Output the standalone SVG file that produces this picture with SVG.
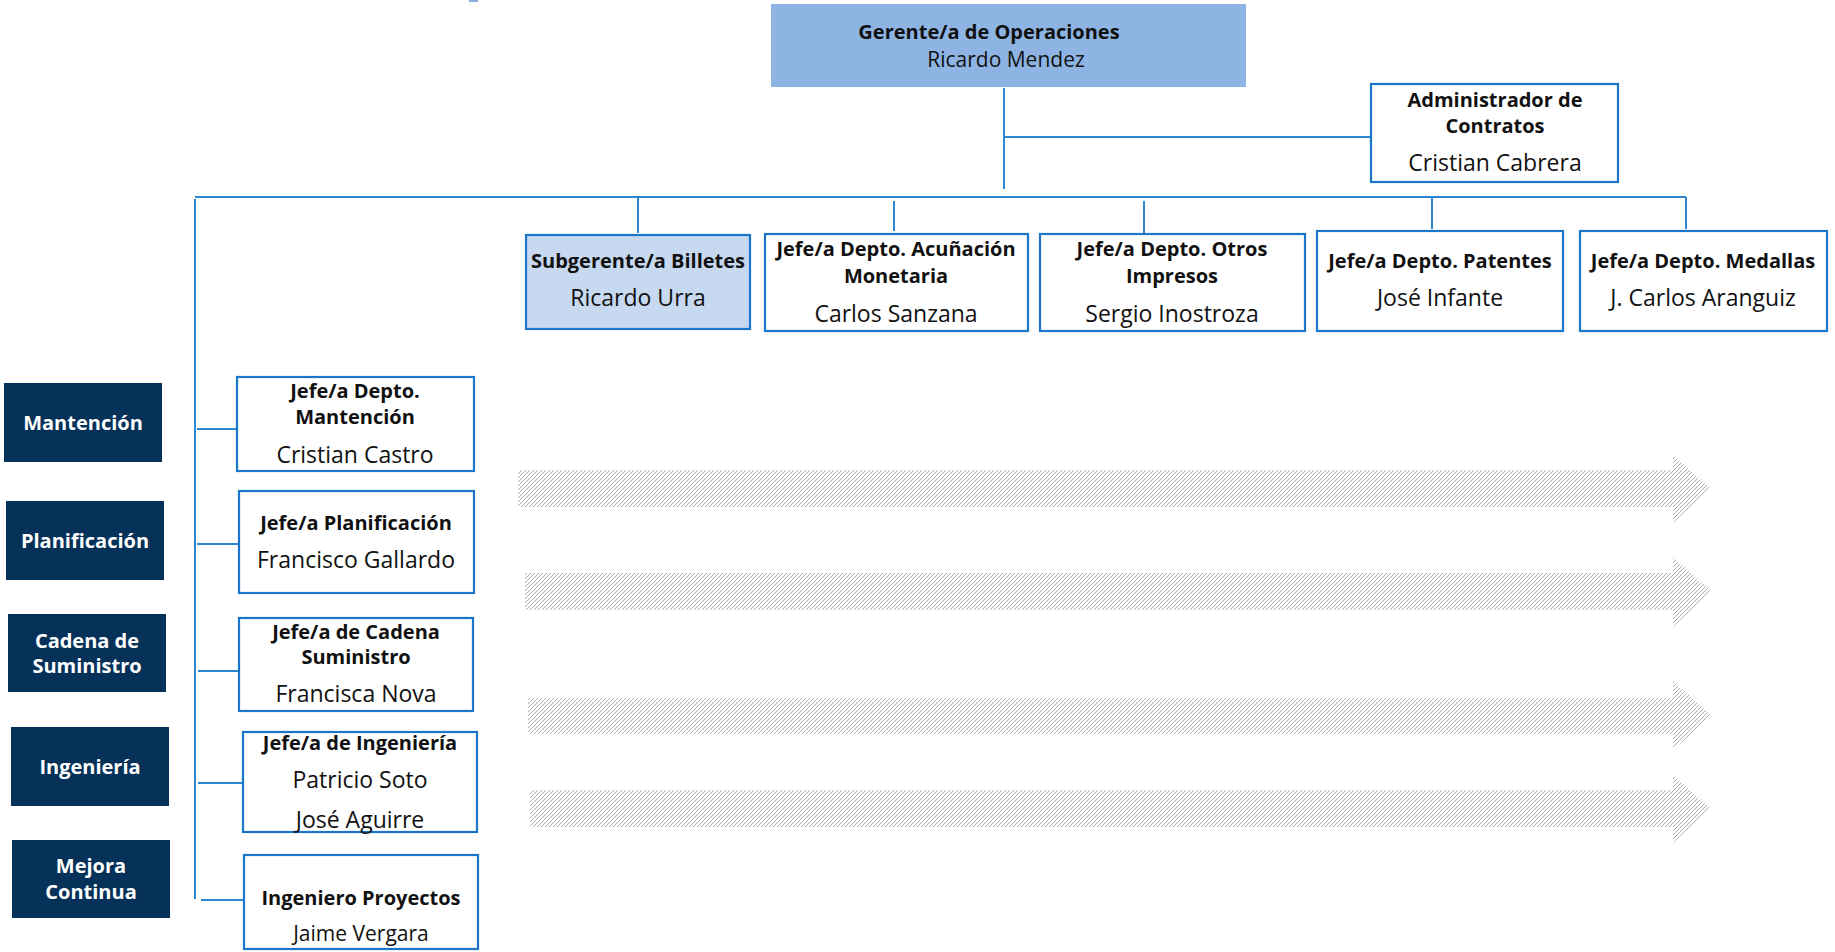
<svg xmlns="http://www.w3.org/2000/svg" width="1835" height="952" viewBox="0 0 1835 952">
<style>
.box{fill:#fff;stroke:#1B75C9;stroke-width:2.2}
.dark{fill:#06325A}
.b{font-family:"Open Sans","Noto Sans",sans-serif;font-weight:700;font-size:20px;fill:#111;text-anchor:middle}
.r{font-family:"Open Sans","Noto Sans",sans-serif;font-weight:400;font-size:23px;fill:#111;text-anchor:middle}
.w{font-family:"Open Sans","Noto Sans",sans-serif;font-weight:700;font-size:20px;fill:#fff;text-anchor:middle}
.ln{stroke:#2C86D2;stroke-width:2;fill:none}
.arr{fill:url(#hatch)}
</style>
<defs>
<pattern id="hatch" patternUnits="userSpaceOnUse" width="4" height="4">
<path d="M-1,1 L1,-1 M0,4 L4,0 M3,5 L5,3" stroke="#a3a3a3" stroke-width="0.9"/>
</pattern>
</defs>
<rect x="469" y="0" width="9" height="2" fill="#8EA9DB"/>
<g id="connectors">
<line class="ln" x1="1004" y1="88" x2="1004" y2="189"/>
<line class="ln" x1="1004" y1="137" x2="1371" y2="137"/>
<line class="ln" x1="195" y1="197" x2="1686" y2="197"/>
<line class="ln" x1="638" y1="197" x2="638" y2="233"/>
<line class="ln" x1="894" y1="201" x2="894" y2="231"/>
<line class="ln" x1="1144" y1="201" x2="1144" y2="233"/>
<line class="ln" x1="1432" y1="197" x2="1432" y2="229"/>
<line class="ln" x1="1686" y1="197" x2="1686" y2="229"/>
<line class="ln" x1="195" y1="199" x2="195" y2="899"/>
<line class="ln" x1="197" y1="429" x2="237" y2="429"/>
<line class="ln" x1="197" y1="544" x2="239" y2="544"/>
<line class="ln" x1="198" y1="671" x2="239" y2="671"/>
<line class="ln" x1="198" y1="783" x2="243" y2="783"/>
<line class="ln" x1="201" y1="900" x2="244" y2="900"/>
</g>
<g id="gerente">
<rect x="771" y="4" width="475" height="83" fill="#8EB4E3"/>
<text class="b" x="989" y="39">Gerente/a de Operaciones</text>
<text class="r" x="1006" y="67" style="font-size:21px">Ricardo Mendez</text>
</g>
<g id="admin">
<rect class="box" x="1371" y="84" width="247" height="98"/>
<text class="b" x="1495" y="107">Administrador de</text>
<text class="b" x="1495" y="133">Contratos</text>
<text class="r" x="1495" y="171">Cristian Cabrera</text>
</g>
<g id="subgerente">
<rect x="526" y="235" width="224" height="94" fill="#C6D9F1" stroke="#1B75C9" stroke-width="2.2"/>
<text class="b" x="638" y="268">Subgerente/a Billetes</text>
<text class="r" x="638" y="306">Ricardo Urra</text>
</g>
<g id="acunacion">
<rect class="box" x="765" y="234" width="263" height="97"/>
<text class="b" x="896" y="256">Jefe/a Depto. Acuñación</text>
<text class="b" x="896" y="283">Monetaria</text>
<text class="r" x="896" y="322">Carlos Sanzana</text>
</g>
<g id="otros">
<rect class="box" x="1040" y="234" width="265" height="97"/>
<text class="b" x="1172" y="256">Jefe/a Depto. Otros</text>
<text class="b" x="1172" y="283">Impresos</text>
<text class="r" x="1172" y="322">Sergio Inostroza</text>
</g>
<g id="patentes">
<rect class="box" x="1317" y="231" width="246" height="100"/>
<text class="b" x="1440" y="268">Jefe/a Depto. Patentes</text>
<text class="r" x="1440" y="306">José Infante</text>
</g>
<g id="medallas">
<rect class="box" x="1580" y="231" width="247" height="100"/>
<text class="b" x="1703" y="268">Jefe/a Depto. Medallas</text>
<text class="r" x="1703" y="306">J. Carlos Aranguiz</text>
</g>
<g id="area-mantencion">
<rect class="dark" x="4" y="383" width="158" height="79"/>
<text class="w" x="83" y="430">Mantención</text>
</g>
<g id="area-planificacion">
<rect class="dark" x="6" y="501" width="158" height="79"/>
<text class="w" x="85" y="548">Planificación</text>
</g>
<g id="area-cadena">
<rect class="dark" x="8" y="614" width="158" height="78"/>
<text class="w" x="87" y="648">Cadena de</text>
<text class="w" x="87" y="673">Suministro</text>
</g>
<g id="area-ingenieria">
<rect class="dark" x="11" y="727" width="158" height="79"/>
<text class="w" x="90" y="774">Ingeniería</text>
</g>
<g id="area-mejora">
<rect class="dark" x="12" y="840" width="158" height="78"/>
<text class="w" x="91" y="873">Mejora</text>
<text class="w" x="91" y="899">Continua</text>
</g>
<g id="mantencion">
<rect class="box" x="237" y="377" width="237" height="94"/>
<text class="b" x="355" y="398">Jefe/a Depto.</text>
<text class="b" x="355" y="424">Mantención</text>
<text class="r" x="355" y="463">Cristian Castro</text>
</g>
<g id="planificacion">
<rect class="box" x="239" y="491" width="235" height="102"/>
<text class="b" x="356" y="530">Jefe/a Planificación</text>
<text class="r" x="356" y="568">Francisco Gallardo</text>
</g>
<g id="cadena">
<rect class="box" x="239" y="618" width="234" height="93"/>
<text class="b" x="356" y="639">Jefe/a de Cadena</text>
<text class="b" x="356" y="664">Suministro</text>
<text class="r" x="356" y="702">Francisca Nova</text>
</g>
<g id="ingenieria">
<rect class="box" x="243" y="732" width="234" height="100"/>
<text class="b" x="360" y="750">Jefe/a de Ingeniería</text>
<text class="r" x="360" y="788">Patricio Soto</text>
<text class="r" x="360" y="828">José Aguirre</text>
</g>
<g id="proyectos">
<rect class="box" x="244" y="855" width="234" height="94"/>
<text class="b" x="361" y="905">Ingeniero Proyectos</text>
<text class="r" x="361" y="941" style="font-size:21px">Jaime Vergara</text>
</g>
<g id="arrows">
<polygon class="arr" points="518,470 1673,470 1673,455 1710,488 1673,523 1673,507 518,507"/>
<polygon class="arr" points="525,573 1673,573 1673,557 1711,591 1673,627 1673,610 525,610"/>
<polygon class="arr" points="528,698 1673,698 1673,681 1712,716 1673,750 1673,734 528,734"/>
<polygon class="arr" points="530,790 1673,790 1673,775 1710,808 1673,843 1673,827 530,827"/>
</g>
</svg>
